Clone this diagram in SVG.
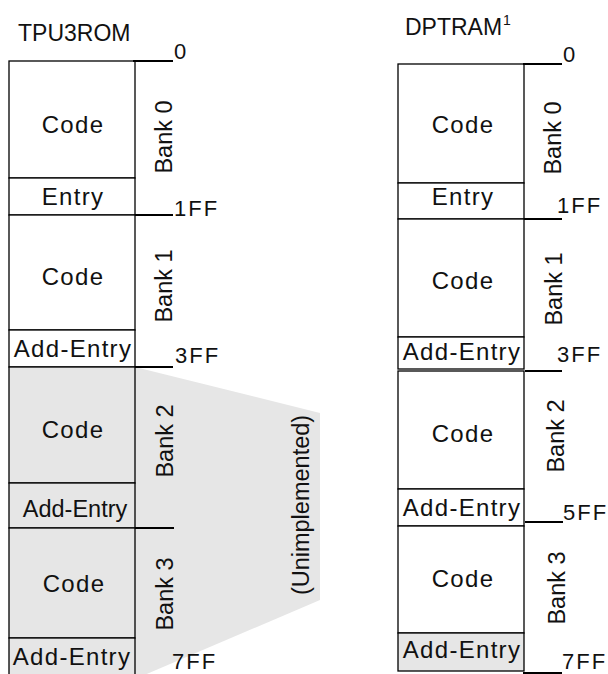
<svg xmlns="http://www.w3.org/2000/svg" width="608" height="674" viewBox="0 0 608 674">
<style>
text{font-family:"Liberation Sans",Arial,sans-serif;fill:#111;}
.t{font-size:23px;}
.s{font-size:24px;letter-spacing:1.3px;text-anchor:middle;}
.n{font-size:23.5px;text-anchor:middle;}
.b{font-size:23.5px;text-anchor:middle;}
.a{font-size:22px;letter-spacing:2px;}
.box{fill:#fff;stroke:#000;stroke-width:1.3;}
.gbox{fill:#e6e6e6;stroke:#000;stroke-width:1.3;}
.tick{stroke:#000;stroke-width:2;fill:none;}
</style>
<g id="shade"><polygon points="135,367 320,413 320,600 135,679" fill="#e6e6e6"/></g>
<g id="titles">
<text class="t" x="18" y="41">TPU3ROM</text>
<text class="t" x="405" y="35">DPTRAM</text>
<text x="503" y="25" font-size="14">1</text>
</g>
<g id="tpu3rom">
<rect class="box" x="9" y="61" width="126" height="117"/>
<text class="s" x="73" y="133">Code</text>
<rect class="box" x="9" y="178" width="126" height="37"/>
<text class="s" x="73" y="205">Entry</text>
<rect class="box" x="9" y="215" width="126" height="115" stroke="#777"/>
<text class="s" x="73" y="285">Code</text>
<rect class="box" x="9" y="330" width="126" height="37"/>
<text class="s" x="73" y="357">Add-Entry</text>
<rect class="gbox" x="9" y="367" width="126" height="116"/>
<text class="s" x="73" y="438">Code</text>
<rect class="gbox" x="9" y="483" width="126" height="45"/>
<text class="n" x="75" y="517">Add-Entry</text>
<rect class="gbox" x="9" y="528" width="126" height="110" stroke-width="2"/>
<text class="s" x="74" y="592">Code</text>
<rect class="gbox" x="9" y="638" width="126" height="40"/>
<text class="s" x="72" y="665">Add-Entry</text>
</g>
<g id="tpu3rom-banks">
<text class="b" transform="translate(172,137) rotate(-90)">Bank 0</text>
<text class="b" transform="translate(172,286) rotate(-90)">Bank 1</text>
<text class="b" transform="translate(173,441) rotate(-90)">Bank 2</text>
<text class="b" transform="translate(173,594) rotate(-90)">Bank 3</text>
<text class="b" font-size="24" transform="translate(309,505) rotate(-90)">(Unimplemented)</text>
</g>
<g id="tpu3rom-addr">
<text class="a" x="174" y="59">0</text>
<text class="a" x="174" y="216">1FF</text>
<text class="a" x="175" y="363">3FF</text>
<text class="a" x="172" y="669">7FF</text>
</g>
<g id="dptram">
<rect class="box" x="398" y="64" width="126" height="119"/>
<text class="s" x="463" y="133">Code</text>
<rect class="box" x="398" y="183" width="126" height="36" stroke="#d8cc00"/>
<text class="s" x="463" y="205">Entry</text>
<rect class="box" x="398" y="219" width="126" height="118"/>
<text class="s" x="463" y="289">Code</text>
<rect class="box" x="398" y="337" width="126" height="32"/>
<text class="s" x="462" y="360">Add-Entry</text>
<rect class="box" x="398" y="371" width="126" height="118"/>
<text class="s" x="463" y="442">Code</text>
<rect class="box" x="398" y="489" width="126" height="37"/>
<text class="s" x="462" y="516">Add-Entry</text>
<rect class="box" x="398" y="526" width="126" height="107" stroke-width="2"/>
<text class="s" x="463" y="587">Code</text>
<rect class="gbox" x="398" y="633" width="126" height="38"/>
<text class="s" x="462" y="658">Add-Entry</text>
</g>
<g id="dptram-banks">
<text class="b" transform="translate(561,138) rotate(-90)">Bank 0</text>
<text class="b" transform="translate(562,289) rotate(-90)">Bank 1</text>
<text class="b" transform="translate(564,436) rotate(-90)">Bank 2</text>
<text class="b" transform="translate(565,588) rotate(-90)">Bank 3</text>
</g>
<g id="dptram-addr">
<text class="a" x="563" y="62">0</text>
<text class="a" x="557" y="213">1FF</text>
<text class="a" x="557" y="362">3FF</text>
<text class="a" x="563" y="520">5FF</text>
<text class="a" x="562" y="669">7FF</text>
</g>
<g id="connectors">
<line class="tick" x1="133" y1="61" x2="173" y2="61"/>
<line class="tick" x1="135" y1="215" x2="173" y2="215"/>
<line class="tick" x1="135" y1="367" x2="173" y2="367"/>
<line class="tick" x1="135" y1="528" x2="174" y2="528"/>
<line class="tick" x1="523" y1="64" x2="562" y2="64"/>
<line class="tick" x1="524" y1="219" x2="562" y2="219"/>
<line class="tick" x1="525" y1="371" x2="562" y2="371"/>
<line class="tick" x1="525" y1="522" x2="563" y2="522"/>
<line class="tick" x1="523" y1="673" x2="562" y2="673"/>
</g>
</svg>
